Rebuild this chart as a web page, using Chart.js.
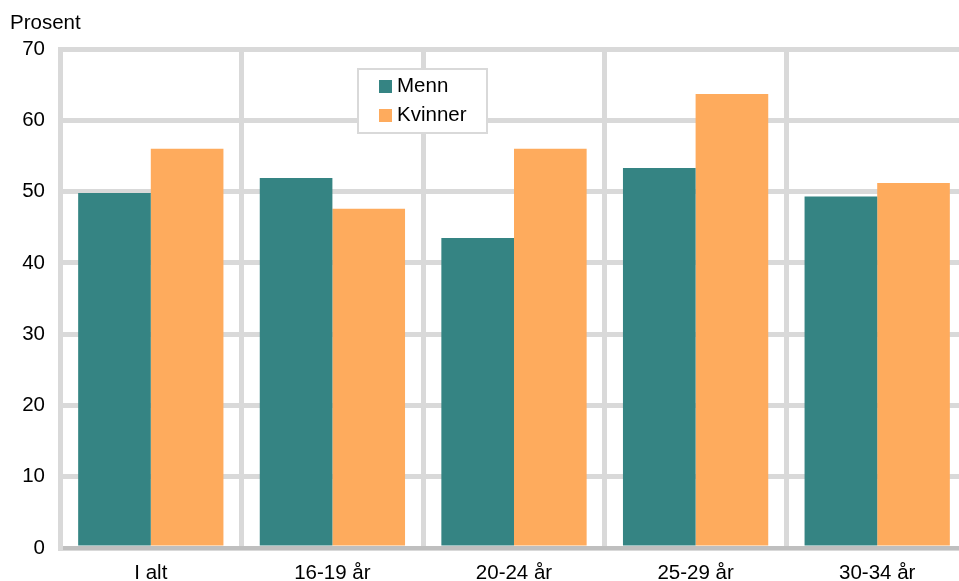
<!DOCTYPE html>
<html>
<head>
<meta charset="utf-8">
<script src="https://cdn.jsdelivr.net/npm/chart.js@4"></script>
<style>
  html, body { margin: 0; padding: 0; background: #fff; overflow: hidden; }
  #wrap { width: 972px; height: 581px; }
</style>
</head>
<body>
<div id="wrap"><canvas id="chart"></canvas></div>
<script>
// Data
const categories = ['I alt', '16-19 år', '20-24 år', '25-29 år', '30-34 år'];
const menn = [49.8, 51.9, 43.5, 53.3, 49.3];
const kvinner = [56.0, 47.6, 56.0, 63.7, 51.2];
const yTicks = [0, 10, 20, 30, 40, 50, 60, 70];

const FONT = 'Liberation Sans, Arial, sans-serif';
const FONT_SIZE = 20.5;
const TEAL = '#358483';
const ORANGE = '#FEAB5D';

// Unit label and legend box drawn on top of the plot
const overlay = {
  id: 'overlay',
  afterDraw(chart) {
    const ctx = chart.ctx;
    ctx.save();
    ctx.fillStyle = '#000';
    ctx.font = FONT_SIZE + 'px ' + FONT;
    ctx.textBaseline = 'middle';
    ctx.textAlign = 'left';
    ctx.fillText('Prosent', 10, 23);

    // legend
    const x = 358, y = 69, w = 129, h = 64;
    ctx.fillStyle = '#fff';
    ctx.fillRect(x, y, w, h);
    ctx.strokeStyle = '#d9d9d9';
    ctx.lineWidth = 2;
    ctx.strokeRect(x, y, w, h);
    chart.data.datasets.forEach((ds, i) => {
      const cy = 86 + i * 29;
      ctx.fillStyle = ds.backgroundColor;
      ctx.fillRect(379, cy - 6, 13, 13);
      ctx.fillStyle = '#000';
      ctx.fillText(ds.label, 397, cy);
    });
    ctx.restore();
  }
};

new Chart(document.getElementById('chart'), {
  type: 'bar',
  data: {
    labels: categories,
    datasets: [
      { label: 'Menn', data: menn, backgroundColor: TEAL, categoryPercentage: 0.8, barPercentage: 1.0 },
      { label: 'Kvinner', data: kvinner, backgroundColor: ORANGE, categoryPercentage: 0.8, barPercentage: 1.0 }
    ]
  },
  options: {
    responsive: true,
    maintainAspectRatio: false,
    animation: false,
    layout: { padding: { top: 49, right: 4, left: 0, bottom: 0 } },
    plugins: {
      legend: { display: false },
      tooltip: { enabled: false }
    },
    scales: {
      x: {
        grid: { color: '#d9d9d9', lineWidth: 5, drawTicks: false, offset: true },
        border: { color: '#bfbfbf', width: 4 },
        ticks: { color: '#000', font: { family: FONT, size: FONT_SIZE }, padding: 13, maxRotation: 0 },
        afterFit(scale) { scale.height = 33; }
      },
      y: {
        min: 0,
        max: 70,
        afterBuildTicks(scale) { scale.ticks = yTicks.map(v => ({ value: v })); },
        grid: { color: '#d9d9d9', lineWidth: 5, drawTicks: false },
        border: { color: '#d9d9d9', width: 5 },
        ticks: { color: '#000', font: { family: FONT, size: FONT_SIZE }, padding: 15 },
        afterFit(scale) { scale.width = 60; }
      }
    }
  },
  plugins: [overlay]
});
</script>
</body>
</html>
